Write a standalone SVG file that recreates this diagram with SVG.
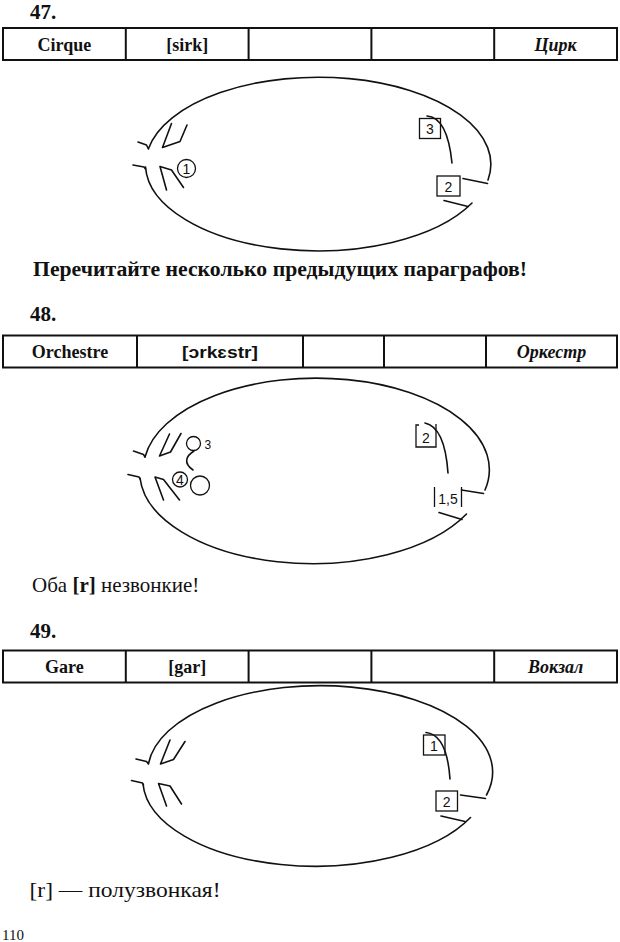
<svg xmlns="http://www.w3.org/2000/svg" width="620" height="942" viewBox="0 0 620 942">
<style>
  .bg{fill:#ffffff}
  .tb{fill:none;stroke:#111;stroke-width:2}
  .ln{fill:none;stroke:#111;stroke-width:1.6;stroke-linecap:round;stroke-linejoin:round}
  .bx{fill:none;stroke:#111;stroke-width:1.3}
  .num{font-family:"Liberation Serif","Times New Roman",serif;font-weight:bold;font-size:21px;fill:#111}
  .cell{font-family:"Liberation Serif","Times New Roman",serif;font-weight:bold;font-size:18px;fill:#111;text-anchor:middle}
  .cellI{font-family:"Liberation Serif","Times New Roman",serif;font-weight:bold;font-style:italic;font-size:18px;fill:#111;text-anchor:middle}
  .ipa{font-family:"Liberation Sans","DejaVu Sans",sans-serif;font-weight:bold;font-size:17px;fill:#111;text-anchor:middle}
  .lab{font-family:"Liberation Sans","DejaVu Sans",sans-serif;font-size:14px;fill:#111;text-anchor:middle}
  .labs{font-family:"Liberation Sans","DejaVu Sans",sans-serif;font-size:12px;fill:#111}
  .note{font-family:"Liberation Serif","Times New Roman",serif;font-size:21px;fill:#111}
  .noteB{font-family:"Liberation Serif","Times New Roman",serif;font-weight:bold;font-size:20px;fill:#111}
  .pg{font-family:"Liberation Serif","Times New Roman",serif;font-size:15px;fill:#111}
</style>
<rect class="bg" x="0" y="0" width="620" height="942"/>

<!-- Exercise 47 -->
<g id="ex47-title"><text class="num" x="30" y="19">47.</text></g>
<g id="ex47-table">
  <rect class="tb" x="3" y="28" width="614" height="32"/>
  <path class="tb" d="M125.8,28V60M248.6,28V60M371.4,28V60M494.2,28V60"/>
  <text class="cell" x="64.4" y="50.5">Cirque</text>
  <text class="cell" x="187.2" y="50.5">[sirk]</text>
  <text class="cellI" x="555.6" y="50.5">Цирк</text>
</g>
<g id="ex47-diagram">
  <path class="ln" d="M148.5,148.5 A172.5,87 0 1 1 488,180"/>
  <path class="ln" d="M472,203 A172.5,87 0 0 1 145.5,167"/>
  <path class="ln" d="M138,142 L146.5,145 L148.5,149"/>
  <path class="ln" d="M133,165 L144,167 L145.5,169"/>
  <path class="ln" d="M171.5,123.5 L162.5,147.5 L180,141.5 L187,125"/>
  <path class="ln" d="M166.5,190 L160,166.5 L171.5,170 L183.5,187.5"/>
  <g id="ex47-tongue1"><circle class="bx" cx="186.5" cy="168.5" r="9"/><text class="lab" x="186.5" y="173.5">1</text></g>
  <g id="ex47-box3"><rect class="bx" x="419.5" y="118.5" width="21" height="20"/><text class="lab" x="430" y="134">3</text></g>
  <g id="ex47-box2"><rect class="bx" x="437" y="176" width="23" height="20"/><text class="lab" x="448.5" y="191.5">2</text></g>
</g>
<g id="ex47-connectors">
  <path class="ln" d="M427,116 C441,117 449,133 452,163"/>
  <path class="ln" d="M463,178.5 L487.5,183.5"/>
  <path class="ln" d="M444,200.5 L468,206.5"/>
</g>
<g id="ex47-note"><text class="noteB" x="33" y="276" textLength="494" lengthAdjust="spacingAndGlyphs">Перечитайте несколько предыдущих параграфов!</text></g>

<!-- Exercise 48 -->
<g id="ex48-title"><text class="num" x="30" y="321">48.</text></g>
<g id="ex48-table">
  <rect class="tb" x="3" y="335.5" width="614" height="32"/>
  <path class="tb" d="M137,335.5V367.5M303,335.5V367.5M384,335.5V367.5M486,335.5V367.5"/>
  <text class="cell" x="70" y="357.5">Orchestre</text>
  <text class="ipa" x="220" y="357.5" textLength="76" lengthAdjust="spacingAndGlyphs">[ɔrkɛstr]</text>
  <text class="cellI" x="551.5" y="357.5">Оркестр</text>
</g>
<g id="ex48-diagram">
  <path class="ln" d="M145,457 A173,91.5 0 1 1 485,490"/>
  <path class="ln" d="M466.5,514 A173,91.5 0 0 1 140,478"/>
  <path class="ln" d="M133.5,451 L143.5,454.5 L145,457"/>
  <path class="ln" d="M128,474.5 L139,477 L140,479"/>
  <path class="ln" d="M169.5,434 L159.5,456 L170.5,452 L181,433.5"/>
  <path class="ln" d="M163.5,500 L155,477 L163.5,479.5 L179.5,500"/>
  <g id="ex48-circle3"><circle class="bx" cx="193.5" cy="443.5" r="7"/><text class="labs" x="204.5" y="448.5">3</text></g>
  <g id="ex48-circle4"><circle class="bx" cx="180" cy="479.5" r="7.5"/><text class="lab" x="180" y="484.5">4</text></g>
  <g id="ex48-circle-lower"><circle class="bx" cx="200" cy="485.5" r="9.5"/></g>
  <g id="ex48-box2"><path class="bx" d="M419,425 H416 V447 H436 V424"/><text class="lab" x="426" y="443">2</text></g>
  <g id="ex48-box15"><path class="bx" d="M434.5,487 V507 M461.5,487 V507"/><text class="lab" x="448" y="503.5">1,5</text></g>
</g>
<g id="ex48-connectors">
  <path class="ln" d="M194,451 C186,456 183,463 193,470"/>
  <path class="ln" d="M425,423 C439,426 446,444 448,473"/>
  <path class="ln" d="M461.5,490 L483.5,493.5"/>
  <path class="ln" d="M439,512.5 L462,519.5"/>
</g>
<g id="ex48-note"><text class="note" x="32" y="592">Оба <tspan font-weight="bold">[r]</tspan> незвонкие!</text></g>

<!-- Exercise 49 -->
<g id="ex49-title"><text class="num" x="30" y="638">49.</text></g>
<g id="ex49-table">
  <rect class="tb" x="3" y="650.5" width="614" height="32"/>
  <path class="tb" d="M125.8,650.5V682.5M248.6,650.5V682.5M371.4,650.5V682.5M494.2,650.5V682.5"/>
  <text class="cell" x="64.4" y="672.5">Gare</text>
  <text class="cell" x="187.2" y="672.5">[gar]</text>
  <text class="cellI" x="555.6" y="672.5">Вокзал</text>
</g>
<g id="ex49-diagram">
  <path class="ln" d="M148.5,763.5 A172.5,86.5 0 1 1 486.5,795"/>
  <path class="ln" d="M470.5,817.5 A172.5,86.5 0 0 1 143,784"/>
  <path class="ln" d="M136,759 L146.5,761.5 L148.5,764"/>
  <path class="ln" d="M131.5,780.5 L142.5,783 L143.5,785"/>
  <path class="ln" d="M170,740 L160.5,764 L173.5,759.5 L185,741.5"/>
  <path class="ln" d="M166.5,806 L158.5,783.5 L170,786 L181.5,804"/>
  <g id="ex49-box1"><rect class="bx" x="423.5" y="735" width="21.5" height="20"/><text class="lab" x="434" y="750.5">1</text></g>
  <g id="ex49-box2"><rect class="bx" x="436" y="791" width="21.5" height="20"/><text class="lab" x="446.7" y="806.5">2</text></g>
</g>
<g id="ex49-connectors">
  <path class="ln" d="M426,732.5 C440,734 448,750 450,779"/>
  <path class="ln" d="M460.5,795 L485.5,798.5"/>
  <path class="ln" d="M441,816 L465,821.5"/>
</g>
<g id="ex49-note"><text class="note" x="29.5" y="897" font-size="20" textLength="191" lengthAdjust="spacingAndGlyphs">[r] — полузвонкая!</text></g>
<g id="page-number"><text class="pg" x="2" y="940">110</text></g>
</svg>
